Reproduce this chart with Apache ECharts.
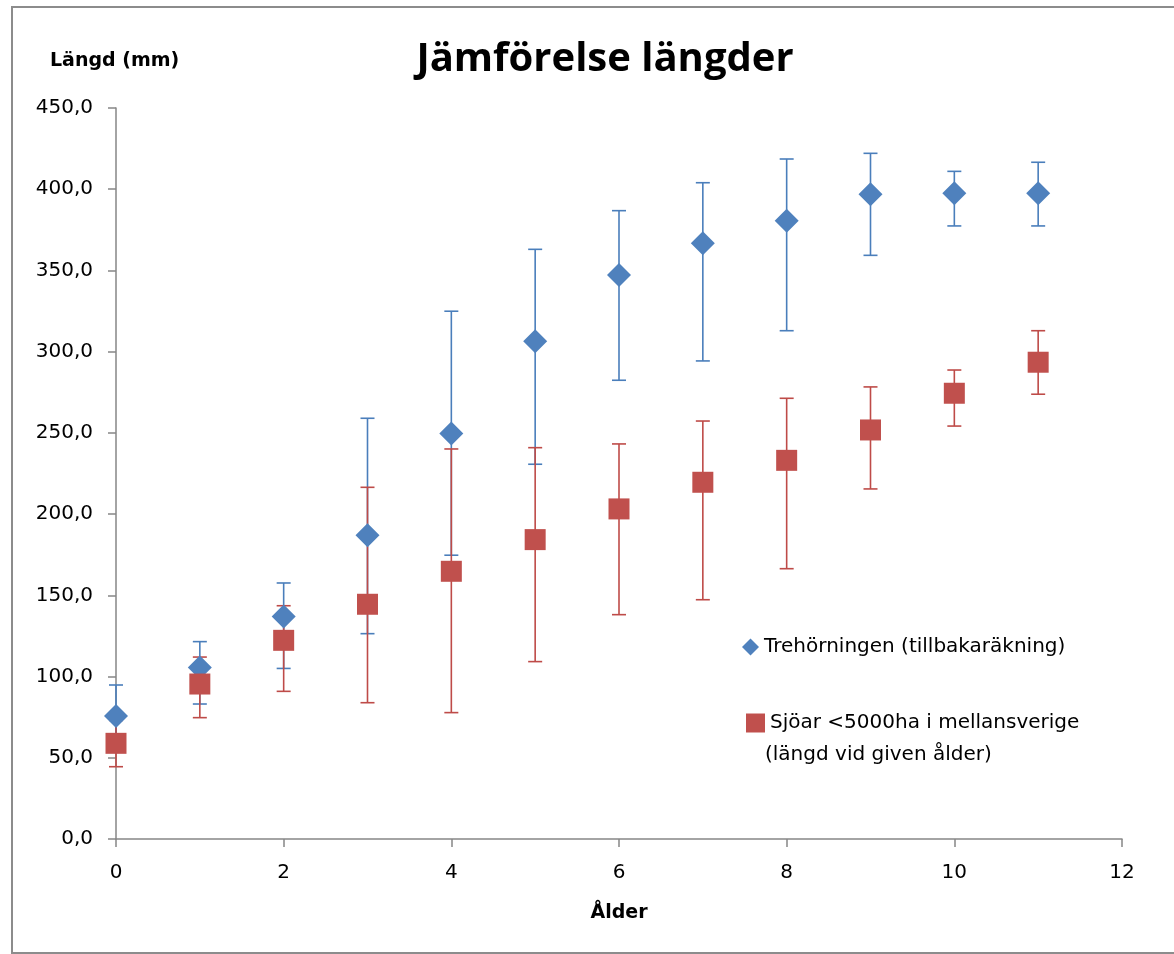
<!DOCTYPE html>
<html>
<head>
<meta charset="utf-8">
<script src="https://cdn.jsdelivr.net/npm/echarts@6/dist/echarts.min.js"></script>
<style>
html,body{margin:0;padding:0;background:#fff;}
#chart{width:1174px;height:954px;}
</style>
</head>
<body>
<div id="chart"></div>
<script>
// ---- data ----
const ages = [0, 1, 2, 3, 4, 5, 6, 7, 8, 9, 10, 11];
const treMean  = [75.7, 105.5, 136.9, 187.0, 249.7, 306.4, 347.2, 366.7, 380.6, 396.9, 397.5, 397.5];
const treUpper = [94.8, 121.5, 157.6, 259.0, 324.9, 363.0, 386.8, 404.0, 418.6, 422.1, 411.0, 416.6];
const treLower = [56.7, 83.1, 105.0, 126.4, 174.7, 230.7, 282.4, 294.3, 312.9, 359.3, 377.4, 377.4];
const sjoMean  = [58.9, 95.4, 122.3, 144.5, 164.8, 184.3, 203.2, 219.6, 233.1, 251.8, 274.4, 293.5];
const sjoUpper = [73.0, 112.0, 143.6, 216.5, 240.1, 240.9, 243.2, 257.3, 271.3, 278.3, 288.7, 312.9];
const sjoLower = [44.5, 74.7, 90.9, 83.9, 77.8, 109.2, 138.1, 147.3, 166.4, 215.5, 254.2, 273.8];
const treName = 'Trehörningen (tillbakaräkning)';
const sjoName1 = 'Sjöar <5000ha i mellansverige';
const sjoName2 = '(längd vid given ålder)';
const titleText = 'Jämförelse längder';
const yTitle = 'Längd (mm)';
const xTitle = 'Ålder';

const FONT = '"DejaVu Sans", sans-serif';
const TFONT = '"Open Sans", sans-serif';
const BLUE = '#4F81BD', BLUE_ERR = '#4A7EBB';
const RED = '#C0504D', RED_ERR = '#BE4B48';

function errSeries(name, lo, hi, color) {
  return {
    type: 'custom',
    name: name + ' err',
    z: 1,
    silent: true,
    data: ages.map((a, i) => [a, lo[i], hi[i]]),
    renderItem: function (params, api) {
      const x = api.value(0);
      const pLo = api.coord([x, api.value(1)]);
      const pHi = api.coord([x, api.value(2)]);
      const half = 7;
      const style = { stroke: color, lineWidth: 1.6 };
      return {
        type: 'group',
        children: [
          { type: 'line', shape: { x1: pLo[0], y1: pLo[1], x2: pHi[0], y2: pHi[1] }, style: style },
          { type: 'line', shape: { x1: pLo[0] - half, y1: pLo[1], x2: pLo[0] + half, y2: pLo[1] }, style: style },
          { type: 'line', shape: { x1: pHi[0] - half, y1: pHi[1], x2: pHi[0] + half, y2: pHi[1] }, style: style }
        ]
      };
    }
  };
}

const chart = echarts.init(document.getElementById('chart'));
chart.setOption({
  animation: false,
  backgroundColor: '#fff',
  title: {
    text: titleText,
    left: 600, textAlign: 'center', top: 35,
    textStyle: { fontFamily: TFONT, fontWeight: 'bold', fontSize: 40, color: '#000' }
  },
  grid: { left: 116, right: 52, top: 108, bottom: 115 },
  legend: [
    {
      data: [{ name: treName, icon: 'diamond' }],
      left: 737, top: 632,
      itemWidth: 17, itemHeight: 17, itemGap: 5,
      textStyle: { fontFamily: FONT, fontSize: 20, color: '#000' }
    },
    {
      data: [{ name: sjoName1, icon: 'rect' }],
      left: 741, top: 708,
      itemWidth: 19, itemHeight: 19, itemGap: 5,
      textStyle: { fontFamily: FONT, fontSize: 20, color: '#000' }
    }
  ],
  xAxis: {
    type: 'value', min: 0, max: 12, interval: 2,
    name: xTitle, nameLocation: 'middle', nameGap: 65,
    nameTextStyle: { fontFamily: FONT, fontWeight: 'bold', fontSize: 19, color: '#000' },
    axisLine: { onZero: false, lineStyle: { color: '#868686', width: 1.5 } },
    axisTick: { show: true, length: 8, lineStyle: { color: '#868686', width: 1.5 } },
    axisLabel: { fontFamily: FONT, fontSize: 20, color: '#000', margin: 24 },
    splitLine: { show: false }
  },
  yAxis: {
    type: 'value', min: 0, max: 450, interval: 50,
    axisLine: { show: true, lineStyle: { color: '#868686', width: 1.5 } },
    axisTick: { show: true, length: 8, lineStyle: { color: '#868686', width: 1.5 } },
    axisLabel: {
      fontFamily: FONT, fontSize: 20, color: '#000', margin: 23,
      formatter: v => v.toFixed(1).replace('.', ',')
    },
    splitLine: { show: false }
  },
  graphic: [
    { type: 'rect', shape: { x: 12, y: 7, width: 1200, height: 946 }, style: { fill: 'none', stroke: '#8C8C8C', lineWidth: 2 }, z: -10 },
    { type: 'text', left: 50, top: 52, style: { text: yTitle, fontFamily: FONT, fontWeight: 'bold', fontSize: 19, fill: '#000' } },
    { type: 'text', left: 765, top: 745, style: { text: sjoName2, fontFamily: FONT, fontSize: 20, fill: '#000' } }
  ],
  series: [
    errSeries(treName, treLower, treUpper, BLUE_ERR),
    errSeries(sjoName1, sjoLower, sjoUpper, RED_ERR),
    {
      type: 'scatter', name: treName, z: 2,
      symbol: 'diamond', symbolSize: 24,
      itemStyle: { color: BLUE, opacity: 1 },
      data: ages.map((a, i) => [a, treMean[i]])
    },
    {
      type: 'scatter', name: sjoName1, z: 3,
      symbol: 'rect', symbolSize: 21,
      itemStyle: { color: RED, opacity: 1 },
      data: ages.map((a, i) => [a, sjoMean[i]])
    }
  ]
});
</script>
</body>
</html>
